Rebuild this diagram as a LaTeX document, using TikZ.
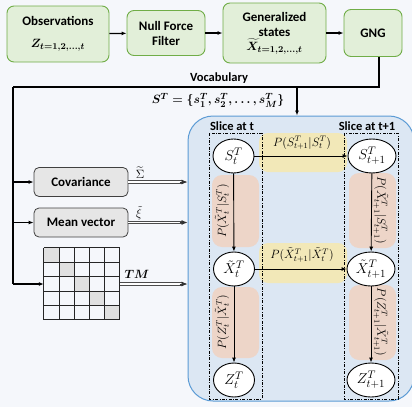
\documentclass[tikz,border=0pt]{standalone}
\usepackage{amsmath}
\usepackage{fontspec}
\setmainfont{Carlito}
\usetikzlibrary{arrows.meta,shapes.geometric,calc}
\definecolor{bg}{HTML}{F5F7FB}
\definecolor{gfill}{HTML}{E2EFD9}
\definecolor{gdraw}{HTML}{70AD47}
\definecolor{greyfill}{HTML}{E6E6E6}
\definecolor{bluefill}{HTML}{DCE7F3}
\definecolor{bluedraw}{HTML}{5B9BD5}
\definecolor{yel}{HTML}{F2E8B8}
\definecolor{pinkc}{HTML}{EDD5C8}
\tikzset{
  gbox/.style={draw=gdraw, fill=gfill, rounded corners=7pt, line width=0.9pt, align=center, font=\fontsize{13}{15}\selectfont\bfseries, inner sep=1pt},
  greybox/.style={draw=black!75, fill=greyfill, rounded corners=5pt, line width=0.8pt, font=\fontsize{13}{15}\selectfont\bfseries, minimum width=94pt, minimum height=29pt},
  flow/.style={line width=1.2pt, -{Latex[length=5pt,width=4pt]}},
  thickln/.style={line width=1.7pt},
  dblbody/.style={draw=black!70, double=white, double distance=1.3pt, line width=0.9pt, shorten >=5pt},
  dbltip/.style={draw=black!80, line width=0.8pt, -{Latex[length=6pt,width=5pt]}},
  state/.style={ellipse, draw=black, fill=white, line width=0.9pt, minimum height=34pt, inner sep=0pt, font=\fontsize{15}{17}\selectfont},
  prob/.style={font=\fontsize{11.5}{13}\selectfont},
  slice/.style={draw=black, line width=0.6pt, dash pattern=on 3pt off 1.5pt on 0.8pt off 1.5pt},
  yelbox/.style={fill=yel, rounded corners=9pt},
  pinkbox/.style={fill=pinkc, rounded corners=10pt},
  edge/.style={line width=0.9pt, -{Latex[length=5pt,width=4pt]}},
  slabel/.style={font=\fontsize{12.5}{14}\selectfont\bfseries},
  dlabel/.style={font=\fontsize{13}{15}\selectfont},
}
\begin{document}
\begin{tikzpicture}[x=1pt,y=-1pt]
\fill[bg] (0,0) rectangle (412,407);
\useasboundingbox (0,0) rectangle (412,407);

% top row
\node[gbox, minimum width=102pt, minimum height=56pt] (obs) at (58,34) {Observations\\[7pt] $\boldsymbol{Z_{t=1,2,\ldots,t}}$};
\node[gbox, minimum width=78pt, minimum height=45pt] (nff) at (166,33) {Null Force\\Filter};
\node[gbox, minimum width=103pt, minimum height=60pt] (gen) at (274.5,33) {Generalized\\states\\[-1pt] $\boldsymbol{\widetilde{X}_{t=1,2,\ldots,t}}$};
\node[gbox, minimum width=58pt, minimum height=47pt] (gng) at (373,33) {GNG};
\draw[flow] (obs) -- (nff);
\draw[flow] (nff) -- (gen);
\draw[flow] (gen) -- (gng);

% blue box
\node[draw=bluedraw, fill=bluefill, line width=1pt, rounded corners=25pt, minimum width=226pt, minimum height=285pt] (bb) at (301,258.5) {};

% vocabulary line
\coordinate (g0) at ([xshift=6pt]gng.south);
\coordinate (vtop) at (13,87);
\coordinate (vj) at (297,87);
\node[font=\fontsize{12.5}{14}\selectfont\bfseries] (voc) at (219,78) {Vocabulary};
\node[font=\fontsize{13}{15}\selectfont] (seq) at (218,100) {$\boldsymbol{S^T=\{s_1^T, s_2^T,\ldots, s_M^T\}}$};
\draw[thickln] (g0) |- (vtop);
\draw[line width=1.5pt, -{Latex[length=5pt,width=4pt]}] (vj) -- (vj |- bb.north);

% left boxes
\node[greybox] (cov) at (81,182) {Covariance};
\node[greybox] (mean) at (81,222.5) {Mean vector};

% transition matrix
\node[minimum width=76pt, minimum height=72pt, inner sep=0pt] (tm) at (82,284) {};
\foreach \i in {0,...,4} {
  \fill[black!12] ($(tm.north west)+(\i*15.2,\i*14.4)$) rectangle ++(15.2,14.4);
}
\foreach \i in {0,...,5} {
  \draw[black!85, line width=0.8pt] ($(tm.north west)+(\i*15.2,0)$) -- ++(0,72);
  \draw[black!85, line width=0.8pt] ($(tm.north west)+(0,\i*14.4)$) -- ++(76,0);
}

\draw[thickln] (vtop) -- (vtop |- tm.west);
\draw[flow] (vtop |- tm.west) -- (tm.west);
\draw[flow] (vtop |- cov.west) -- (cov.west);
\draw[flow] (vtop |- mean.west) -- (mean.west);

% double arrows
\foreach \src in {cov,mean,tm} {
  \draw[dblbody] (\src.east) -- (\src.east -| bb.west);
  \draw[dbltip] ([xshift=-8pt]\src.east -| bb.west) -- (\src.east -| bb.west);
}
\node[dlabel] (lsig) at (140,173) {$\widetilde{\Sigma}$};
\node[dlabel] (lxi) at (139,213) {$\tilde{\xi}$};
\node[dlabel] (ltm) at (137,274) {$\boldsymbol{TM}$};

% colored label boxes
\fill[yelbox] (259,133) rectangle (347,172);
\fill[yelbox] (259,243) rectangle (347,283);
\fill[pinkbox] (212,175) rectangle (259,247);
\fill[pinkbox] (349,173) rectangle (396,248);
\fill[pinkbox] (212,287) rectangle (259,358);
\fill[pinkbox] (349,285) rectangle (396,360);

% slices
\draw[slice] (209,133) rectangle (262,399);
\draw[slice] (344,133) rectangle (398,399);
\node[slabel] (sl1) at (232,126) {Slice at t};
\node[slabel] (sl2) at (367,126) {Slice at t+1};

% states
\node[state, minimum width=41pt] (st) at (233.5,156) {$S_t^T$};
\node[state, minimum width=48pt] (st1) at (372,156) {$S_{t+1}^T$};
\node[state, minimum width=41pt] (xt) at (234,269) {$\tilde{X}_t^T$};
\node[state, minimum width=48pt] (xt1) at (371,269) {$\tilde{X}_{t+1}^T$};
\node[state, minimum width=41pt] (zt) at (234,380) {$Z_t^T$};
\node[state, minimum width=48pt] (zt1) at (371,380) {$Z_{t+1}^T$};

\draw[edge] (st) -- (st1);
\draw[edge] (xt) -- (xt1);
\draw[edge] (st) -- (xt);
\draw[edge] (xt) -- (zt);
\draw[edge] (st1) -- (xt1);
\draw[edge] (xt1) -- (zt1);

\node[prob] (p1) at (302,143) {$P(S_{t+1}^T|S_t^T)$};
\node[prob] (p2) at (302,255) {$P(\tilde{X}_{t+1}^T|\tilde{X}_t^T)$};
\node[prob, rotate=90] (p3) at (222,211) {$P(\tilde{X}_t^T|S_t^T)$};
\node[prob, rotate=-90] (p4) at (381,210) {$P(\tilde{X}_{t+1}^T|S_{t+1}^T)$};
\node[prob, rotate=90] (p5) at (222,322) {$P(Z_t^T|\tilde{X}_t^T)$};
\node[prob, rotate=-90] (p6) at (381,322) {$P(Z_{t+1}^T|\tilde{X}_{t+1}^T)$};
\end{tikzpicture}
\end{document}
